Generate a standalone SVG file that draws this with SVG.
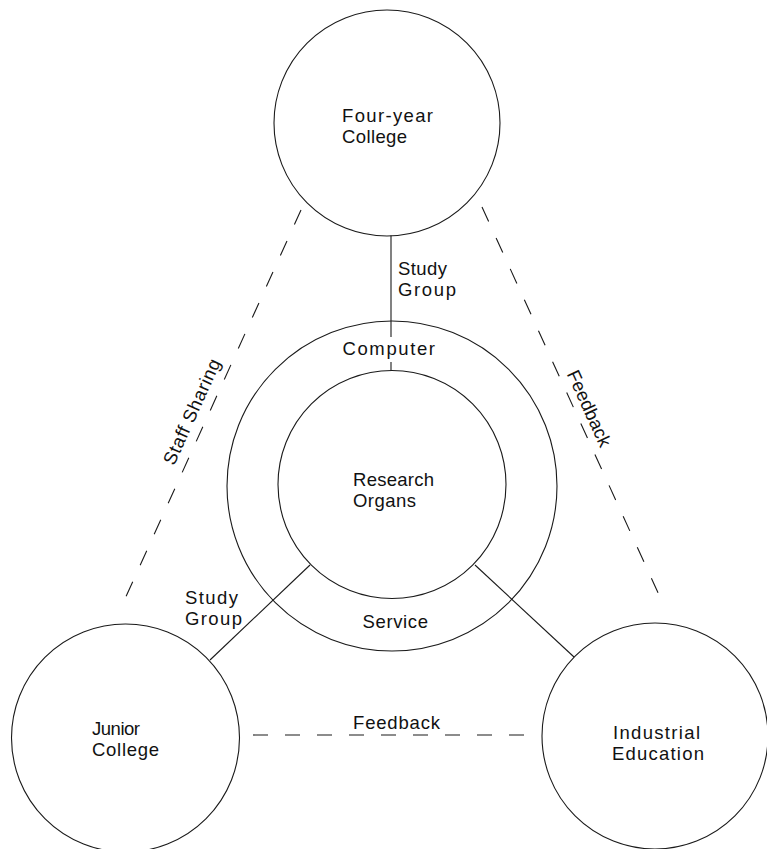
<svg xmlns="http://www.w3.org/2000/svg" width="767" height="849" viewBox="0 0 767 849">
  <style>
    .ring { fill: none; stroke: #1a1a1a; stroke-width: 1.1; }
    .link { fill: none; stroke: #1a1a1a; stroke-width: 1.1; }
    .dash { fill: none; stroke: #1a1a1a; stroke-width: 1.1; stroke-dasharray: 15 17; }
    .dash-diag { fill: none; stroke: #1a1a1a; stroke-width: 1.1; stroke-dasharray: 16 18; }
    text { font-family: "Liberation Sans", Arial, Helvetica, sans-serif; font-size: 18.5px; fill: #111; }
  </style>
  <rect width="767" height="849" fill="#ffffff"/>

  <!-- connectors -->
  <g id="connectors">
    <!-- study group: four-year college to research organs (broken by the Computer label) -->
    <line class="link" x1="391" y1="235.5" x2="391" y2="337"/>
    <line class="link" x1="391" y1="362" x2="391" y2="370.5"/>
    <!-- study group: research organs to junior college -->
    <line class="link" x1="310" y1="565" x2="210" y2="660"/>
    <!-- research organs to industrial education -->
    <line class="link" x1="475" y1="565" x2="574" y2="657"/>
    <!-- staff sharing -->
    <line class="dash-diag" x1="301" y1="210" x2="119" y2="612"/>
    <!-- feedback, right side -->
    <line class="dash-diag" x1="482" y1="207" x2="665" y2="608"/>
    <!-- feedback, bottom -->
    <line class="dash" x1="253" y1="735" x2="527" y2="735"/>

    <text x="398" y="275" textLength="49">Study</text>
    <text x="398" y="296" textLength="58">Group</text>
    <text x="185" y="604" textLength="53">Study</text>
    <text x="185" y="624.5" textLength="57">Group</text>
    <text transform="translate(197.6 414.4) rotate(-65.64)" text-anchor="middle" textLength="114">Staff Sharing</text>
    <text transform="translate(583.4 411) rotate(65.5)" text-anchor="middle" textLength="82">Feedback</text>
    <text x="353" y="728.5" textLength="87">Feedback</text>
  </g>

  <!-- nodes -->
  <g id="four-year-college">
    <circle class="ring" cx="387" cy="123" r="113"/>
    <text x="342" y="122" textLength="91">Four-year</text>
    <text x="342" y="142.5" textLength="65">College</text>
  </g>

  <g id="support-ring">
    <circle class="ring" cx="392" cy="486" r="165"/>
    <text x="342.5" y="355" textLength="92.5">Computer</text>
    <text x="362.5" y="627.5" textLength="65.5">Service</text>
  </g>

  <g id="research-organs">
    <circle class="ring" cx="392" cy="484.5" r="114"/>
    <text x="353" y="485.5" textLength="81">Research</text>
    <text x="353" y="506.5" textLength="63">Organs</text>
  </g>

  <g id="junior-college">
    <circle class="ring" cx="125.5" cy="738" r="114"/>
    <text x="92" y="735" textLength="48">Junior</text>
    <text x="92" y="756" textLength="67">College</text>
  </g>

  <g id="industrial-education">
    <circle class="ring" cx="655" cy="736" r="113"/>
    <text x="613" y="739" textLength="87">Industrial</text>
    <text x="612" y="760" textLength="92">Education</text>
  </g>
</svg>
